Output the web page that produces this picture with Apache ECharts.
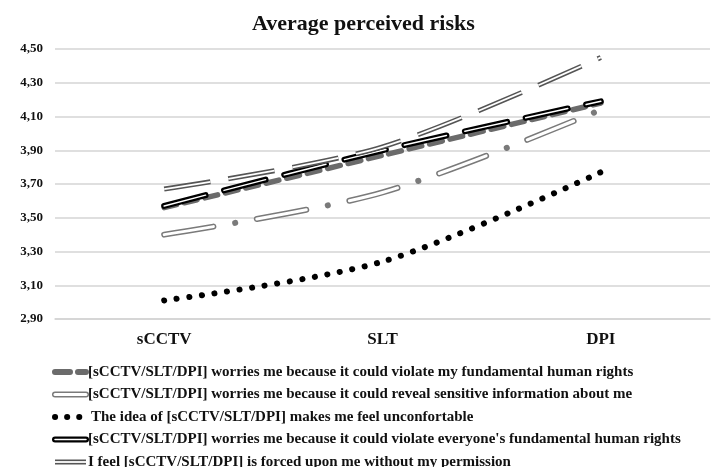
<!DOCTYPE html>
<html>
<head>
<meta charset="utf-8">
<script src="https://cdn.jsdelivr.net/npm/echarts@6/dist/echarts.min.js"></script>
<style>
  html, body { margin: 0; padding: 0; background: #fff; }
  #chart { width: 712px; height: 467px; }
</style>
</head>
<body>
<div id="chart"></div>
<script>
// data
var categories = ["sCCTV", "SLT", "DPI"];
var myRights = [3.56, 3.87, 4.18];
var revealInfo = [3.40, 3.65, 4.14];
var uncomfortable = [3.01, 3.24, 3.77];
var everyoneRights = [3.57, 3.90, 4.19];
var forcedUpon = [3.67, 3.92, 4.45];
var seriesNames = [
  "[sCCTV/SLT/DPI] worries me because it could violate my fundamental human rights",
  "[sCCTV/SLT/DPI] worries me because it could reveal sensitive information about me",
  "The idea of [sCCTV/SLT/DPI] makes me feel unconfortable",
  "[sCCTV/SLT/DPI] worries me because it could violate everyone's fundamental human rights",
  "I feel [sCCTV/SLT/DPI] is forced upon me without my permission"
];
var yTicks = { min: 2.9, max: 4.5, interval: 0.2 };

var serif = '"Liberation Serif", "DejaVu Serif", serif';

// each series is drawn as one or two stacked strokes (outline + core)
var layers = [
  { data: myRights, name: 0, strokes: [
    { color: "#6b6b6b", width: 5.5, type: [13, 8], cap: "round" }
  ]},
  { data: revealInfo, name: 1, strokes: [
    { color: "#7a7a7a", width: 6, type: [50, 22, 0.1, 22], cap: "round" },
    { color: "#ffffff", width: 3, type: [50, 44.1], cap: "round" }
  ]},
  { data: uncomfortable, name: 2, strokes: [
    { color: "#000000", width: 6, type: [0.1, 12.6], cap: "round" }
  ]},
  { data: everyoneRights, name: 3, strokes: [
    { color: "#000000", width: 6, type: [43, 19], cap: "round" },
    { color: "#ffffff", width: 1.5, type: [43, 19], cap: "round" }
  ]},
  { data: forcedUpon, name: 4, strokes: [
    { color: "#555555", width: 5, type: [47, 18], cap: "butt" },
    { color: "#ffffff", width: 1.8, type: [47, 18], cap: "butt" }
  ]}
];

var series = [];
layers.forEach(function (l) {
  l.strokes.forEach(function (s) {
    series.push({
      name: seriesNames[l.name],
      type: "line",
      data: l.data,
      smooth: 0.3,
      symbol: "none",
      silent: true,
      lineStyle: { color: s.color, width: s.width, type: s.type, cap: s.cap, join: "round" }
    });
  });
});

// legend drawn by hand so the double strokes show like the original
var legendTop = 372, legendGap = 22.5;
var graphics = [];
layers.forEach(function (l, i) {
  var y = legendTop + i * legendGap;
  l.strokes.forEach(function (s) {
    var w = l.name === 0 ? 6 : s.width;
    var dash = l.name === 0 ? [15, 8] : (l.name === 2 ? [0.1, 12] : null);
    graphics.push({
      type: "line",
      shape: { x1: 55, y1: y, x2: l.name === 2 ? 80 : 86, y2: y },
      style: { stroke: s.color, lineWidth: w, lineDash: dash, lineCap: l.name === 4 ? "butt" : "round" }
    });
  });
  graphics.push({
    type: "text",
    style: {
      text: seriesNames[l.name],
      x: l.name === 2 ? 91 : 88,
      y: y,
      verticalAlign: "middle",
      font: "bold 15px " + serif,
      fill: "#111"
    }
  });
});

var chart = echarts.init(document.getElementById("chart"));
chart.setOption({
  animation: false,
  backgroundColor: "#fff",
  title: {
    text: "Average perceived risks",
    left: 247,
    top: 8,
    textStyle: { fontFamily: serif, fontWeight: "bold", fontSize: 22, color: "#111" }
  },
  grid: { left: 55, right: 2, top: 49, bottom: 148, containLabel: false },
  xAxis: {
    type: "category",
    data: categories,
    boundaryGap: true,
    axisLine: { show: true, lineStyle: { color: "#d4d4d4", width: 1.5 } },
    axisTick: { show: false },
    axisLabel: { margin: 12, fontFamily: serif, fontWeight: "bold", fontSize: 17, color: "#111" }
  },
  yAxis: {
    type: "value",
    min: yTicks.min,
    max: yTicks.max,
    interval: yTicks.interval,
    axisLine: { show: false },
    axisTick: { show: false },
    splitLine: { lineStyle: { color: "#d4d4d4", width: 1.5 } },
    axisLabel: {
      margin: 12,
      fontFamily: serif,
      fontWeight: "bold",
      fontSize: 13,
      color: "#111",
      formatter: function (v) { return v.toFixed(2).replace(".", ","); }
    }
  },
  series: series,
  graphic: graphics
});
</script>
</body>
</html>
